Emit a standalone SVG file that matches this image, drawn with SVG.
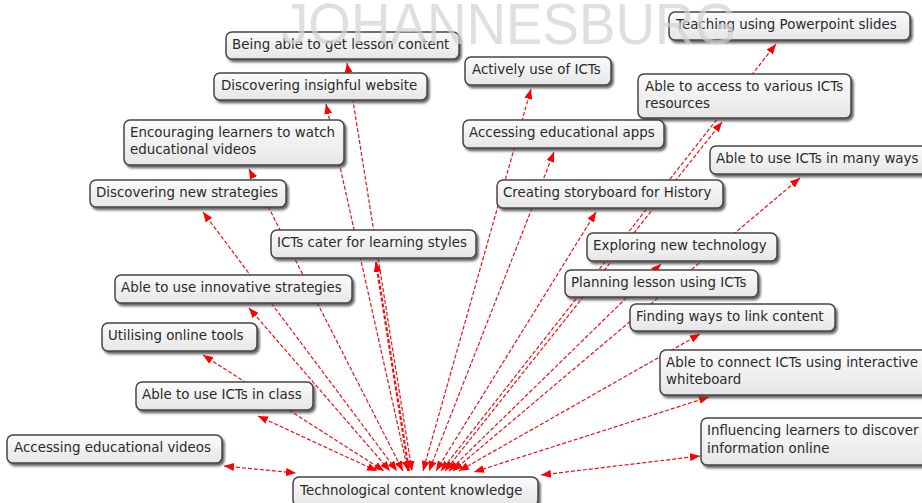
<svg xmlns="http://www.w3.org/2000/svg" width="922" height="503" viewBox="0 0 922 503">
  <defs>
    <linearGradient id="boxFill" x1="0" y1="0" x2="0" y2="1">
      <stop offset="0" stop-color="#fbfbfb"/>
      <stop offset="1" stop-color="#e6e6e6"/>
    </linearGradient>
    <filter id="shadow" x="-10%" y="-30%" width="130%" height="180%">
      <feDropShadow dx="2" dy="2.5" stdDeviation="1" flood-color="#404040" flood-opacity="0.8"/>
    </filter>
    <marker id="tip" viewBox="0 0 10 8" refX="10" refY="4" markerWidth="10" markerHeight="8" markerUnits="userSpaceOnUse" orient="auto-start-reverse">
      <path d="M0,0 L10,4 L0,8 z" fill="#ff0000"/>
    </marker>
  </defs>
  <style>
    .box { fill: url(#boxFill); stroke: #464646; stroke-width: 1.5; filter: url(#shadow); }
    .lbl { font-family: "DejaVu Sans", Verdana, sans-serif; font-size: 13.4px; fill: #2a2a2a; }
    .link { fill: none; stroke: #f01010; stroke-width: 1.2; stroke-dasharray: 4 2; marker-start: url(#tip); marker-end: url(#tip); }
    .wm { font-family: "Liberation Sans", Arial, sans-serif; font-size: 58px; fill: #d2d2d2; fill-opacity: 0.7; }
  </style>

  <rect width="922" height="503" fill="#ffffff"/>

  <!-- connectors: every idea is linked both ways to the central node -->
  <g id="connectors">
    <line class="link" x1="224" y1="466" x2="296" y2="473"/>
    <line class="link" x1="258" y1="416" x2="377" y2="471"/>
    <line class="link" x1="203" y1="355" x2="384" y2="471"/>
    <line class="link" x1="249" y1="308" x2="390" y2="471"/>
    <line class="link" x1="203" y1="212" x2="397" y2="471"/>
    <line class="link" x1="249" y1="169" x2="403" y2="471"/>
    <line class="link" x1="326" y1="104" x2="408" y2="471"/>
    <line class="link" x1="347" y1="63" x2="412" y2="471"/>
    <line class="link" x1="376" y1="262" x2="409" y2="471" style="stroke-width:2.2"/>
    <line class="link" x1="531" y1="89" x2="423" y2="471"/>
    <line class="link" x1="554" y1="152" x2="429" y2="471"/>
    <line class="link" x1="596" y1="212" x2="436" y2="471"/>
    <line class="link" x1="776" y1="44" x2="441" y2="471"/>
    <line class="link" x1="722" y1="122" x2="445" y2="471"/>
    <line class="link" x1="800" y1="178" x2="453" y2="471"/>
    <line class="link" x1="661" y1="264" x2="449" y2="471"/>
    <line class="link" x1="700" y1="334" x2="459" y2="471"/>
    <line class="link" x1="709" y1="397" x2="474" y2="472"/>
    <line class="link" x1="700" y1="456" x2="541" y2="475"/>
  </g>

  <g id="n-teaching"><rect class="box" x="669" y="12" width="241" height="28" rx="6"/><text class="lbl" x="676" y="29">Teaching using Powerpoint slides</text></g>
  <g id="n-lesson-content"><rect class="box" x="226" y="32" width="233" height="27" rx="6"/><text class="lbl" x="232" y="49">Being able to get lesson content</text></g>
  <g id="n-website"><rect class="box" x="214" y="73" width="213" height="27" rx="6"/><text class="lbl" x="221" y="90">Discovering insighful website</text></g>
  <g id="n-encouraging"><rect class="box" x="124" y="120" width="220" height="45" rx="6"/><text class="lbl" x="130" y="137">Encouraging learners to watch</text><text class="lbl" x="130" y="154">educational videos</text></g>
  <g id="n-new-strategies"><rect class="box" x="90" y="180" width="196" height="27" rx="6"/><text class="lbl" x="96" y="197">Discovering new strategies</text></g>
  <g id="n-actively"><rect class="box" x="465" y="57" width="146" height="28" rx="6"/><text class="lbl" x="472" y="74">Actively use of ICTs</text></g>
  <g id="n-access"><rect class="box" x="638" y="74" width="213" height="44" rx="6"/><text class="lbl" x="645" y="91">Able to access to various ICTs</text><text class="lbl" x="645" y="108">resources</text></g>
  <g id="n-apps"><rect class="box" x="463" y="120" width="201" height="28" rx="6"/><text class="lbl" x="469" y="137">Accessing educational apps</text></g>
  <g id="n-many-ways"><rect class="box" x="710" y="146" width="225" height="28" rx="6"/><text class="lbl" x="716" y="163">Able to use ICTs in many ways</text></g>
  <g id="n-storyboard"><rect class="box" x="497" y="180" width="226" height="28" rx="6"/><text class="lbl" x="503" y="197">Creating storyboard for History</text></g>
  <g id="n-styles"><rect class="box" x="271" y="230" width="205" height="28" rx="6"/><text class="lbl" x="277" y="247">ICTs cater for learning styles</text></g>
  <g id="n-innovative"><rect class="box" x="115" y="275" width="237" height="28" rx="6"/><text class="lbl" x="121" y="292">Able to use innovative strategies</text></g>
  <g id="n-online-tools"><rect class="box" x="102" y="323" width="155" height="28" rx="6"/><text class="lbl" x="108" y="340">Utilising online tools</text></g>
  <g id="n-class"><rect class="box" x="136" y="382" width="177" height="28" rx="6"/><text class="lbl" x="142" y="399">Able to use ICTs in class</text></g>
  <g id="n-videos"><rect class="box" x="7" y="435" width="215" height="28" rx="6"/><text class="lbl" x="14" y="452">Accessing educational videos</text></g>
  <g id="n-exploring"><rect class="box" x="587" y="233" width="190" height="28" rx="6"/><text class="lbl" x="593" y="250">Exploring new technology</text></g>
  <g id="n-planning"><rect class="box" x="565" y="270" width="193" height="27" rx="6"/><text class="lbl" x="571" y="287">Planning lesson using ICTs</text></g>
  <g id="n-finding"><rect class="box" x="630" y="304" width="205" height="27" rx="6"/><text class="lbl" x="636" y="321">Finding ways to link content</text></g>
  <g id="n-whiteboard"><rect class="box" x="660" y="350" width="270" height="45" rx="6"/><text class="lbl" x="666" y="367">Able to connect ICTs using interactive</text><text class="lbl" x="666" y="384">whiteboard</text></g>
  <g id="n-influencing"><rect class="box" x="701" y="418" width="230" height="47" rx="6"/><text class="lbl" x="707" y="435">Influencing learners to discover</text><text class="lbl" x="707" y="453">information online</text></g>
  <g id="n-tck"><rect class="box" x="293" y="477" width="245" height="29" rx="6"/><text class="lbl" x="300" y="495">Technological content knowledge</text></g>

  <!-- faint institution name across the top -->
  <text class="wm" x="281" y="44" textLength="456" lengthAdjust="spacingAndGlyphs">JOHANNESBURG</text>
</svg>
